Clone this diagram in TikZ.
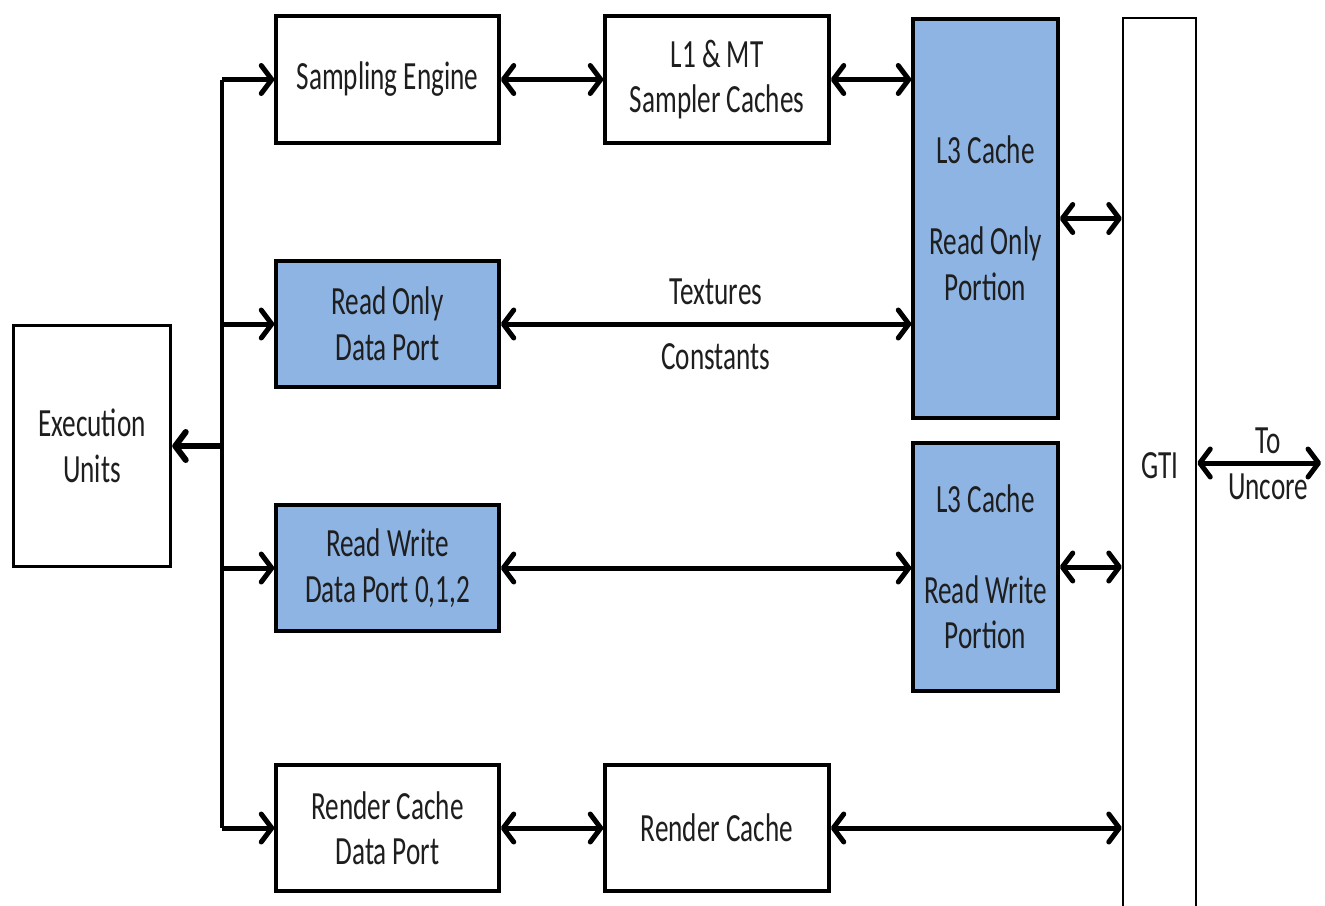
\documentclass[tikz,border=0pt]{standalone}
\usepackage{fontspec}
\setmainfont[FakeStretch=0.68]{Carlito}
\usetikzlibrary{arrows.meta}
\definecolor{portblue}{HTML}{8EB4E3}
\definecolor{inktext}{HTML}{1E1E1E}
\tikzset{
  box/.style={draw=black, line width=3.5pt, fill=white, inner sep=0pt, align=center, text=inktext},
  bluebox/.style={box, fill=portblue},
  lbl/.style={inner sep=0pt, align=center, text=inktext},
  tip/.tip={Straight Barb[length=10.5pt, width=28pt, line cap=round, line join=round]},
  link/.style={line width=5pt, tip-tip},
  feed/.style={line width=5pt, -tip},
  busline/.style={line width=4pt}
}
\begin{document}
\begin{tikzpicture}[x=1pt, y=-1pt, font=\fontsize{40}{45.5}\selectfont]
\useasboundingbox (0,0) rectangle (1325,905);

% GTI column, open at the bottom of the page
\node[draw=black, line width=2.5pt, minimum width=73pt, minimum height=904pt, inner sep=0pt] (gti) at (1159.5,470) {};
\node[lbl] (gtitext) at (1160,466) {GTI};

% boxes
\node[box, minimum width=157pt, minimum height=241pt] (eu) at (92,446) {Execution\\Units};
\node[box, minimum width=223pt, minimum height=127pt] (se) at (387.5,79.5) {Sampling Engine};
\node[box, minimum width=224pt, minimum height=127pt] (l1) at (717,79.5) {L1 \& MT\\Sampler Caches};
\node[bluebox, minimum width=145pt, minimum height=399pt] (l3ro) at (985.5,218.5) {L3 Cache\\[45.5pt]Read Only\\Portion};
\node[bluebox, minimum width=223pt, minimum height=126pt] (rod) at (387.5,324) {Read Only\\Data Port};
\node[bluebox, minimum width=223pt, minimum height=126pt] (rwd) at (387.5,568) {Read Write\\Data Port 0,1,2};
\node[bluebox, minimum width=145pt, minimum height=248pt] (l3rw) at (985.5,567) {L3 Cache\\[45.5pt]Read Write\\Portion};
\node[box, minimum width=223pt, minimum height=126pt] (rcdp) at (387.5,828) {Render Cache\\Data Port};
\node[box, minimum width=224pt, minimum height=126pt] (rc) at (717,828) {Render Cache};

% distribution bus from the execution units
\coordinate (btop) at (222,79.5);
\coordinate (bbot) at (222,828);
\draw[busline] (btop) -- (bbot);
\draw[feed] (btop) -- (se.west);
\draw[feed] (rod.west -| btop) -- (rod.west);
\draw[feed] (rwd.west -| btop) -- (rwd.west);
\draw[feed] (bbot) -- (rcdp.west);
\draw[feed, line width=6pt] (eu.east -| btop) -- (eu.east);

% data paths
\draw[link] (se.east) -- (l1.west);
\draw[link] (l1.east) -- (l1.east -| l3ro.west);
\draw[link] (rod.east) -- (rod.east -| l3ro.west);
\draw[link] (rwd.east) -- (rwd.east -| l3rw.west);
\draw[link] (rcdp.east) -- (rc.west);
\draw[link] (rc.east) -- (rc.east -| gti.west);
\draw[link] (l3ro.east) -- (l3ro.east -| gti.west);
\draw[link] (l3rw.east) -- (l3rw.east -| gti.west);

\node[lbl] (tex) at (716,292) {Textures};
\node[lbl] (const) at (716,357) {Constants};

% link to the uncore
\coordinate (uncore) at (1321,463);
\draw[link] (gti.east |- uncore) -- (uncore);
\node[lbl] (to) at (1268,441) {To};
\node[lbl] (unc) at (1268,487) {Uncore};
\end{tikzpicture}
\end{document}
